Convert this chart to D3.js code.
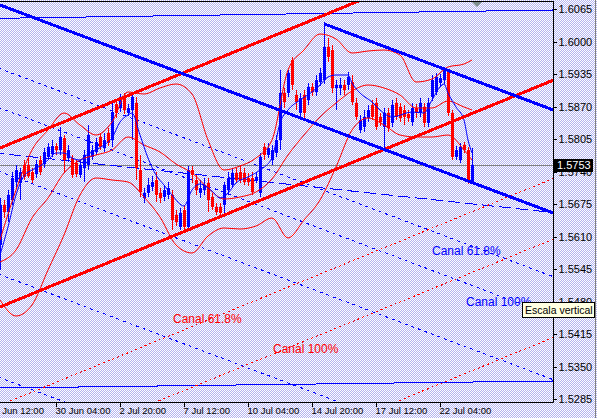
<!DOCTYPE html>
<html><head><meta charset="utf-8">
<script src="https://cdn.jsdelivr.net/npm/d3@7"></script>
<style>html,body{margin:0;padding:0;overflow:hidden;background:#dcdcf4}</style>
</head><body>
<svg id="c" width="597" height="418"></svg>
<script>
// ---------- DATA ----------
const openP = [1.5593,1.5673,1.5659,1.5683,1.5719,1.5717,1.5753,1.5753,1.5739,1.5735,
1.5763,1.5755,1.5769,1.5775,1.5791,1.5783,1.5807,1.5767,1.5767,1.5757,
1.5733,1.5747,1.5753,1.5769,1.5779,1.5809,1.5787,1.5817,1.5803,1.5875,
1.5867,1.5889,1.5857,1.5863,1.5877,1.5743,1.5687,1.5697,1.5709,1.5723,
1.5697,1.5689,1.5693,1.5693,1.5653,1.5629,1.5663,1.5629,1.5743,1.5723,
1.5697,1.5703,1.5717,1.5689,1.5669,1.5669,1.5673,1.5703,1.5713,1.5737,
1.5739,1.5737,1.5727,1.5727,1.5723,1.5697,1.5789,1.5773,1.5763,1.5777,
1.5803,1.5897,1.5897,1.5963,1.5893,1.5857,1.5893,1.5883,1.5909,1.5899,
1.5919,1.5923,1.5989,1.5983,1.5907,1.5907,1.5913,1.5913,1.5919,1.5877,
1.5823,1.5829,1.5847,1.5873,1.5877,1.5849,1.5829,1.5857,1.5837,1.5877,
1.5869,1.5863,1.5855,1.5839,1.5867,1.5857,1.5869,1.5837,1.5889,1.5899,
1.5917,1.5923,1.5939,1.5857,1.5769,1.5763,1.5793,1.5783,1.5719];
const highP = [1.5687,1.5683,1.5703,1.5739,1.5753,1.5747,1.5763,1.5767,1.5747,1.5763,
1.5771,1.5787,1.5797,1.5803,1.5797,1.5829,1.5813,1.5793,1.5773,1.5763,
1.5763,1.5783,1.5833,1.5793,1.5807,1.5817,1.5817,1.5827,1.5877,1.5883,
1.5895,1.5897,1.5875,1.5897,1.5889,1.5773,1.5707,1.5727,1.5731,1.5739,
1.5707,1.5713,1.5719,1.5703,1.5663,1.5667,1.5673,1.5751,1.5751,1.5733,
1.5723,1.5727,1.5727,1.5697,1.5677,1.5677,1.5719,1.5739,1.5747,1.5747,
1.5753,1.5747,1.5737,1.5739,1.5739,1.5777,1.5797,1.5797,1.5793,1.5813,
1.5943,1.5907,1.5943,1.5969,1.5903,1.5897,1.5903,1.5917,1.5917,1.5933,
1.5947,1.6035,1.6007,1.5993,1.5923,1.5927,1.5923,1.5939,1.5933,1.5887,
1.5853,1.5863,1.5873,1.5883,1.5887,1.5857,1.5867,1.5867,1.5883,1.5887,
1.5877,1.5873,1.5863,1.5877,1.5875,1.5887,1.5877,1.5887,1.5933,1.5937,
1.5935,1.5949,1.5943,1.5863,1.5791,1.5797,1.5799,1.5789,1.5787];
const lowP = [1.5543,1.5647,1.5639,1.5673,1.5707,1.5683,1.5723,1.5727,1.5717,1.5727,
1.5733,1.5747,1.5763,1.5769,1.5773,1.5773,1.5737,1.5759,1.5727,1.5729,
1.5727,1.5719,1.5743,1.5763,1.5773,1.5783,1.5779,1.5791,1.5789,1.5847,
1.5859,1.5855,1.5851,1.5803,1.5723,1.5689,1.5677,1.5689,1.5701,1.5679,
1.5677,1.5681,1.5685,1.5623,1.5631,1.5623,1.5623,1.5625,1.5717,1.5693,
1.5687,1.5693,1.5659,1.5663,1.5653,1.5649,1.5657,1.5693,1.5707,1.5717,
1.5717,1.5713,1.5711,1.5693,1.5717,1.5689,1.5763,1.5767,1.5753,1.5769,
1.5783,1.5867,1.5889,1.5903,1.5863,1.5847,1.5847,1.5873,1.5891,1.5891,
1.5911,1.5915,1.5959,1.5897,1.5863,1.5893,1.5893,1.5903,1.5873,1.5843,
1.5817,1.5819,1.5839,1.5843,1.5823,1.5831,1.5787,1.5819,1.5829,1.5843,
1.5839,1.5833,1.5839,1.5831,1.5847,1.5849,1.5829,1.5829,1.5881,1.5893,
1.5911,1.5915,1.5851,1.5763,1.5763,1.5757,1.5777,1.5715,1.5715];
const closeP = [1.5673,1.5659,1.5693,1.5727,1.5743,1.5739,1.5729,1.5731,1.5723,1.5755,
1.5739,1.5779,1.5789,1.5791,1.5783,1.5809,1.5763,1.5783,1.5733,1.5735,
1.5753,1.5773,1.5813,1.5783,1.5799,1.5789,1.5803,1.5797,1.5859,1.5857,
1.5887,1.5863,1.5867,1.5889,1.5747,1.5699,1.5697,1.5713,1.5719,1.5693,
1.5687,1.5703,1.5707,1.5643,1.5639,1.5657,1.5629,1.5743,1.5733,1.5703,
1.5707,1.5713,1.5683,1.5669,1.5659,1.5657,1.5713,1.5727,1.5737,1.5723,
1.5723,1.5719,1.5719,1.5699,1.5729,1.5769,1.5773,1.5787,1.5783,1.5803,
1.5897,1.5879,1.5937,1.5913,1.5879,1.5887,1.5857,1.5909,1.5899,1.5923,
1.5937,1.5989,1.5969,1.5907,1.5913,1.5913,1.5903,1.5929,1.5879,1.5849,
1.5843,1.5849,1.5863,1.5849,1.5829,1.5839,1.5857,1.5827,1.5873,1.5849,
1.5847,1.5849,1.5847,1.5867,1.5857,1.5877,1.5837,1.5877,1.5923,1.5929,
1.5927,1.5943,1.5857,1.5769,1.5783,1.5789,1.5783,1.5719,1.5753];

// Bollinger bands
const bandBars = [0,4,8,12,16,20,24,28,32,36,40,44,48,52,56,60,64,68,72,76,80,84,88,92,96,100,104,108,112,116,118];
const bandUpper = [1.5603,1.5703,1.5783,1.5823,1.5857,1.5833,1.5813,1.5839,1.5899,1.5895,1.5907,1.5915,1.5895,1.5803,1.5743,1.5751,1.5767,1.5803,1.5943,1.5983,1.6015,1.6005,1.5977,1.5981,1.5983,1.5973,1.5919,1.5925,1.5949,1.5955,1.5963];
const bandMiddle = [1.5559,1.5583,1.5647,1.5687,1.5737,1.5763,1.5773,1.5783,1.5809,1.5793,1.5779,1.5755,1.5737,1.5707,1.5685,1.5689,1.5699,1.5725,1.5773,1.5813,1.5849,1.5877,1.5901,1.5913,1.5907,1.5893,1.5867,1.5867,1.5881,1.5869,1.5863];
const bandLower = [1.5483,1.5451,1.5473,1.5543,1.5613,1.5693,1.5727,1.5723,1.5719,1.5689,1.5649,1.5593,1.5577,1.5611,1.5627,1.5625,1.5631,1.5647,1.5607,1.5643,1.5683,1.5749,1.5823,1.5847,1.5833,1.5813,1.5809,1.5809,1.5813,1.5783,1.5763];

// fast moving average (blue)
const maBars = [0,2,4,6,8,10,12,14,16,18,20,22,24,26,28,30,32,33,35,37,39,41,43,46,48,50,53,55,57,59,62,65,68,70,72,75,78,80,82,84,87,88,90,93,95,98,103,106,108,110,111,112,114,116,117,118];
const maVals = [1.5573,1.5629,1.5693,1.5731,1.5743,1.5751,1.5763,1.5777,1.5777,1.5767,
1.5763,1.5775,1.5783,1.5793,1.5807,1.5839,1.5853,1.5857,1.5813,1.5767,
1.5733,1.5713,1.5693,1.5671,1.5703,1.5715,1.5701,1.5687,1.5697,1.5717,
1.5729,1.5743,1.5767,1.5837,1.5863,1.5883,1.5899,1.5913,1.5929,1.5933,
1.5933,1.5917,1.5897,1.5879,1.5863,1.5849,1.5859,1.5857,1.5883,1.5909,
1.5915,1.5897,1.5869,1.5843,1.5803,1.5777];

const yTickValues = [1.5285,1.5350,1.5415,1.5480,1.5545,1.5610,1.5675,1.5740,1.5805,1.5870,1.5935,1.6000,1.6065];
const xTickBars = [-2,14,30,46,62,78,94,110];
const xTickLabels = ["25 Jun 12:00","30 Jun 04:00","2 Jul 20:00","7 Jul 12:00","10 Jul 04:00","14 Jul 20:00","17 Jul 12:00","22 Jul 04:00"];
const lastPrice = 1.5753;

// drawn objects: [bar1, price1, bar2, price2]
const redChannelBase = [0, 1.5469, 100, 1.5797];
const redChannelWidth = 0.0318;
const redFibLevels = [0.618, 1, 1.618];
const blueChannelBase = [0, 1.6073, 100, 1.57722];
const blueChannelWidth = 0.0206;
const blueParallelStartBar = 81;
const blueFibLevels = [0.618, 1, 1.618, 2.618, 3.618];
const topEnvelope = [0, 1.60464, 138.25, 1.6063];
const bottomEnvelope = [0, 1.5307, 138.25, 1.5321];
const trendDash = [0, 1.5776, 138.25, 1.5658];

const labelTexts = ["Canal 61.8%","Canal 100%","Canal 61.8%","Canal 100%"];
const labelBars = [108, 116.5, 43.25, 68.25];
const labelPrices = [1.5573, 1.5471, 1.5437, 1.5377];
const labelColors = ["#0000ff","#0000ff","#ff0000","#ff0000"];

// ---------- DRAW ----------
const svg = d3.select("#c");
const PL = 0, PR = 553, PT = 2, PB = 402;
const x = d3.scaleLinear().domain([0, 138.25]).range([0, 553]);
const y = d3.scaleLinear().domain([1.5285, 1.6065]).range([399, 9]);
const FONT = "Liberation Sans, Arial, sans-serif";

const defs = svg.append("defs");
const pat = defs.append("pattern").attr("id","hatch").attr("width",2).attr("height",2).attr("patternUnits","userSpaceOnUse");
pat.append("rect").attr("width",2).attr("height",2).attr("fill","#ffffff");
pat.append("rect").attr("x",1).attr("y",0).attr("width",1).attr("height",1).attr("fill","#b4b4ee");
pat.append("rect").attr("x",0).attr("y",1).attr("width",1).attr("height",1).attr("fill","#b4b4ee");
defs.append("clipPath").attr("id","plot").append("rect").attr("x",PL).attr("y",PT).attr("width",PR-PL).attr("height",PB-PT);

svg.append("rect").attr("width",597).attr("height",418).attr("fill","url(#hatch)");

const g = svg.append("g").attr("clip-path","url(#plot)");

// last price line
g.append("line").attr("x1",PL).attr("x2",PR).attr("y1",Math.round(y(lastPrice))+0.5).attr("y2",Math.round(y(lastPrice))+0.5)
  .attr("stroke","#808080").attr("stroke-width",1);

function lineAt(seg, bar, off){ return seg[1] + (seg[3]-seg[1])*(bar-seg[0])/(seg[2]-seg[0]) + (off||0); }
function drawSeg(seg, off, fromBar, toBar, color, width, dash){
  const l = g.append("line")
    .attr("x1", x(fromBar)).attr("y1", y(lineAt(seg, fromBar, off)))
    .attr("x2", x(toBar)).attr("y2", y(lineAt(seg, toBar, off)))
    .attr("stroke", color).attr("stroke-width", width).attr("shape-rendering","crispEdges");
  if (dash) l.attr("stroke-dasharray", dash);
  return l;
}

// thin envelope lines
drawSeg(topEnvelope, 0, -2, 140, "#0000ff", 1);
drawSeg(bottomEnvelope, 0, -2, 140, "#0000ff", 1);
// long dashed trend
drawSeg(trendDash, 0, -2, 140, "#0000ff", 1, "12,5");

// fib dashed lines
redFibLevels.forEach(k => drawSeg(redChannelBase, -k*redChannelWidth, -2, 140, "#ff0000", 1, "2,3"));
blueFibLevels.forEach(k => drawSeg(blueChannelBase, -k*blueChannelWidth, -2, 140, "#0000ff", 1, "3,4"));

// candles
const n = openP.length;
const bars = d3.range(n).map(i => ({i, o:openP[i], h:highP[i], l:lowP[i], c:closeP[i]}));
const cg = g.append("g").attr("shape-rendering","crispEdges");
bars.forEach(b => {
  const X = Math.round(x(b.i));
  const col = b.c >= b.o ? "#0000ff" : "#ff0000";
  cg.append("line").attr("x1",X+0.5).attr("x2",X+0.5).attr("y1",y(b.h)).attr("y2",y(b.l)).attr("stroke",col);
  const top = Math.min(y(b.o), y(b.c)), bot = Math.max(y(b.o), y(b.c));
  cg.append("rect").attr("x",X-1).attr("width",3).attr("y",top).attr("height",Math.max(1,bot-top)).attr("fill",col);
});

// bollinger bands
const bandLine = d3.line().x((d,i)=>x(bandBars[i])).y(d=>y(d)).curve(d3.curveMonotoneX);
[bandUpper, bandMiddle, bandLower].forEach(arr => {
  g.append("path").attr("d", bandLine(arr)).attr("fill","none").attr("stroke","#ff0000").attr("stroke-width",1);
});
// MA
const maLine = d3.line().x((d,i)=>x(maBars[i])).y(d=>y(d)).curve(d3.curveMonotoneX);
g.append("path").attr("d", maLine(maVals)).attr("fill","none").attr("stroke","#0000ff").attr("stroke-width",1);

// thick channels
drawSeg(redChannelBase, 0, -2, 140, "#ff0000", 3);
drawSeg(redChannelBase, redChannelWidth, -2, 140, "#ff0000", 3);
drawSeg(blueChannelBase, 0, -2, 140, "#0000ff", 3);
drawSeg(blueChannelBase, blueChannelWidth, blueParallelStartBar, 140, "#0000ff", 3);

// channel labels
labelTexts.forEach((t,i) => {
  g.append("text").attr("x", x(labelBars[i])).attr("y", y(labelPrices[i]))
    .attr("fill", labelColors[i]).attr("font-family",FONT).attr("font-size",12).text(t);
});

// frame
svg.append("line").attr("x1",0).attr("x2",PR+0.5).attr("y1",1.5).attr("y2",1.5).attr("stroke","#000");
svg.append("line").attr("x1",PR+0.5).attr("x2",PR+0.5).attr("y1",1).attr("y2",PB+0.5).attr("stroke","#000");
svg.append("line").attr("x1",0).attr("x2",PR+0.5).attr("y1",PB+0.5).attr("y2",PB+0.5).attr("stroke","#000");
svg.append("line").attr("x1",595.5).attr("x2",595.5).attr("y1",0).attr("y2",418).attr("stroke","#808080");

// shift marker
svg.append("polygon").attr("points","472,2 482,2 477,7").attr("fill","#7f9090");

// right axis
const ya = svg.append("g").attr("transform",`translate(${PR+0.5},0)`)
  .call(d3.axisRight(y).tickValues(yTickValues).tickFormat(d3.format(".4f")).tickSize(3).tickSizeOuter(0).tickPadding(2));
ya.select(".domain").remove();
ya.selectAll("line").attr("stroke","#000").attr("shape-rendering","crispEdges");
ya.selectAll("text").attr("font-family",FONT).attr("font-size",11).attr("fill","#000");

// bottom axis
const xa = svg.append("g").attr("transform",`translate(0,${PB+0.5})`)
  .call(d3.axisBottom(x).tickValues(xTickBars).tickFormat((d,i)=>xTickLabels[i]).tickSize(4).tickSizeOuter(0).tickPadding(1));
xa.select(".domain").remove();
xa.selectAll("line").attr("stroke","#000").attr("shape-rendering","crispEdges");
xa.selectAll("text").attr("text-anchor","start").attr("dx",(d,i)=> i===0 ? -3.5 : -1)
  .attr("font-family",FONT).attr("font-size",9.5).attr("fill","#000");

// last price box
const ly = y(lastPrice);
svg.append("rect").attr("x",PR+1).attr("y",Math.round(ly)-6).attr("width",39).attr("height",13).attr("fill","#000");
svg.append("text").attr("x",PR+4).attr("y",ly).attr("dy","0.36em").attr("fill","#fff")
  .attr("font-family",FONT).attr("font-size",11).text(d3.format(".4f")(lastPrice));

// tooltip
svg.append("rect").attr("x",522.5).attr("y",302.5).attr("width",72).attr("height",15).attr("fill","#ffffe1").attr("stroke","#000");
svg.append("text").attr("x",525).attr("y",314).attr("fill","#000")
  .attr("font-family",FONT).attr("font-size",10.5).text("Escala vertical");
</script>
</body></html>
